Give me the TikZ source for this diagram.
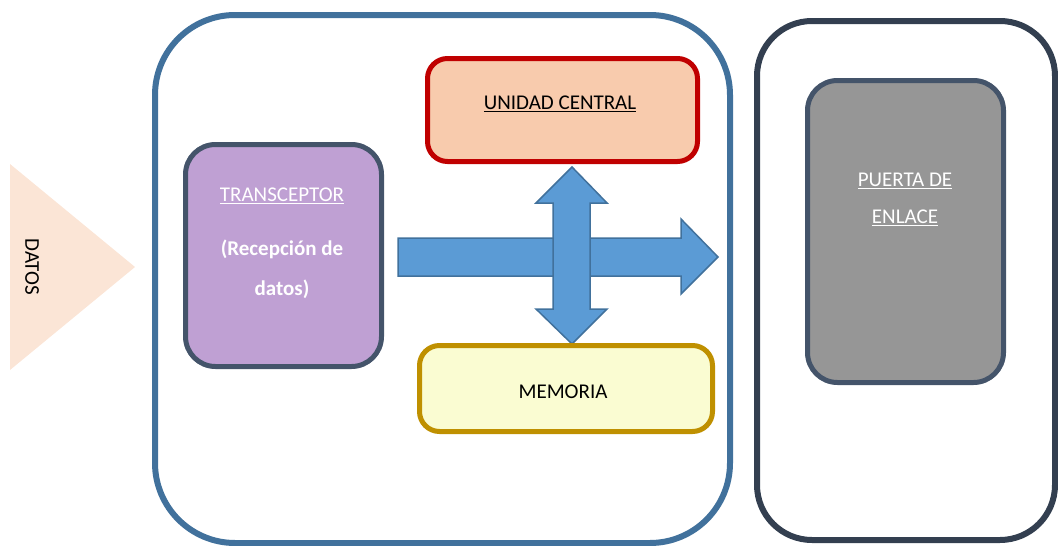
\documentclass[tikz,border=0pt]{standalone}
\usepackage{fontspec}
\setmainfont{Carlito}
\begin{document}
\definecolor{frameblue}{HTML}{41719C}
\definecolor{framenavy}{HTML}{333F50}
\definecolor{slate}{HTML}{44546A}
\definecolor{lavender}{HTML}{BFA0D3}
\definecolor{ashgray}{HTML}{969696}
\definecolor{peach}{HTML}{F8CBAD}
\definecolor{darkred}{HTML}{C00000}
\definecolor{paleyellow}{HTML}{FAFCD2}
\definecolor{gold}{HTML}{BF9000}
\definecolor{busblue}{HTML}{5B9BD5}
\definecolor{datafill}{HTML}{FBE5D6}
\begin{tikzpicture}[x=1pt,y=-1pt,
  frame/.style={line width=6pt, rounded corners=#1},
  unit/.style={draw, line width=5pt, rounded corners=#1, inner sep=0pt, anchor=north west},
  label/.style={font=\fontsize{21}{37}\selectfont, align=center},
  bus/.style={fill=busblue, draw=frameblue, line width=1.5pt, line join=miter}]
\useasboundingbox (0,0) rectangle (1058,546);
% incoming data
\fill[datafill] (10,164) -- (135,267) -- (10,370) -- cycle;
\node[label, rotate=-90] (datos) at (32,267) {DATOS};
% enclosures
\draw[frame=80, draw=frameblue] (155,15) rectangle (730,543);
\draw[frame=55, draw=framenavy] (757,21) rectangle (1055,540);
% data bus
\draw[bus] (398,238) -- (681,238) -- (681,219) -- (718,257) -- (681,294) -- (681,276) -- (398,276) -- cycle;
\draw[bus] (572,167) -- (607,203) -- (590,203) -- (590,309) -- (607,309) -- (572,344) -- (536,309) -- (553,309) -- (553,203) -- (536,203) -- cycle;
% functional units
\node[unit=30, draw=slate, fill=lavender, minimum width=196pt, minimum height=222pt] (trans) at (183,142) {};
\node[unit=20, draw=darkred, fill=peach, minimum width=270pt, minimum height=103pt] (cpu) at (425,56) {};
\node[unit=20, draw=gold, fill=paleyellow, minimum width=293pt, minimum height=86pt] (mem) at (417,343) {};
\node[unit=30, draw=slate, fill=ashgray, minimum width=196pt, minimum height=302pt] (gate) at (805,78) {};
% labels
\node[label, text=white] at (282,196) {\underline{TRANSCEPTOR}};
\node[label, text=white, font=\fontsize{21}{40}\selectfont\bfseries] at (282,269) {(Recepción de\\datos)};
\node[label] at (560,104) {\underline{UNIDAD CENTRAL}};
\node[label] at (563,392) {MEMORIA};
\node[label, text=white] at (905,199) {\underline{PUERTA DE}\\\underline{ENLACE}};
\end{tikzpicture}
\end{document}
